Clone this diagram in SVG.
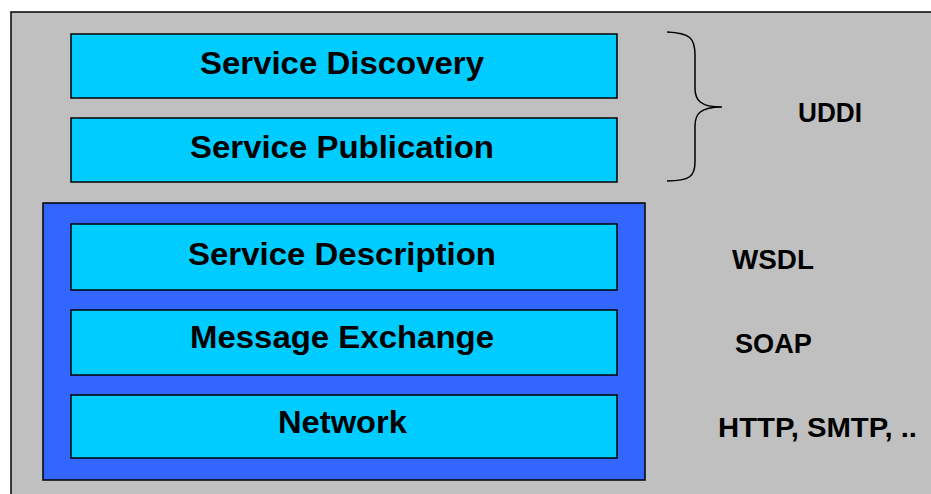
<svg xmlns="http://www.w3.org/2000/svg" width="931" height="494" viewBox="0 0 931 494">
<style>
.layer{fill:#00ccff;stroke:#000;stroke-width:1.5}
.lt{font-family:"Liberation Sans",Arial,sans-serif;font-weight:bold;font-size:31px;fill:#000}
.rt{font-family:"Liberation Sans",Arial,sans-serif;font-weight:bold;font-size:27px;fill:#000}
</style>
<rect x="0" y="0" width="931" height="494" fill="#fff"/>
<rect x="11" y="12" width="930" height="500" fill="#c0c0c0" stroke="#000" stroke-width="1.5"/>
<g id="webservices">
<rect x="43" y="203" width="602" height="277" fill="#3366ff" stroke="#000" stroke-width="1.5"/>
</g>
<g id="discovery">
<rect class="layer" x="71" y="34" width="546" height="64"/>
<text class="lt" x="200" y="74" textLength="284" lengthAdjust="spacingAndGlyphs">Service Discovery</text>
</g>
<g id="publication">
<rect class="layer" x="71" y="118" width="546" height="64"/>
<text class="lt" x="190" y="158" textLength="304" lengthAdjust="spacingAndGlyphs">Service Publication</text>
</g>
<g id="description">
<rect class="layer" x="71" y="224" width="546" height="66"/>
<text class="lt" x="188" y="265" textLength="308" lengthAdjust="spacingAndGlyphs">Service Description</text>
</g>
<g id="exchange">
<rect class="layer" x="71" y="310" width="546" height="65"/>
<text class="lt" x="190" y="348" textLength="304" lengthAdjust="spacingAndGlyphs">Message Exchange</text>
</g>
<g id="network">
<rect class="layer" x="71" y="395" width="546" height="63"/>
<text class="lt" x="278" y="433" textLength="129" lengthAdjust="spacingAndGlyphs">Network</text>
</g>
<g id="connectors">
<path d="M667 32 C690 33 695 38 695 55 L695 88 C695 100 700 107 722 107 C700 107 695 114 695 126 L695 162 C695 176 690 181 667 181" fill="none" stroke="#000" stroke-width="1.5"/>
</g>
<g id="labels">
<text class="rt" x="798" y="122" textLength="64" lengthAdjust="spacingAndGlyphs">UDDI</text>
<text class="rt" x="732" y="269" textLength="82" lengthAdjust="spacingAndGlyphs">WSDL</text>
<text class="rt" x="735" y="353" textLength="77" lengthAdjust="spacingAndGlyphs">SOAP</text>
<text class="rt" x="718" y="437" textLength="199" lengthAdjust="spacingAndGlyphs">HTTP, SMTP, ..</text>
</g>
</svg>
